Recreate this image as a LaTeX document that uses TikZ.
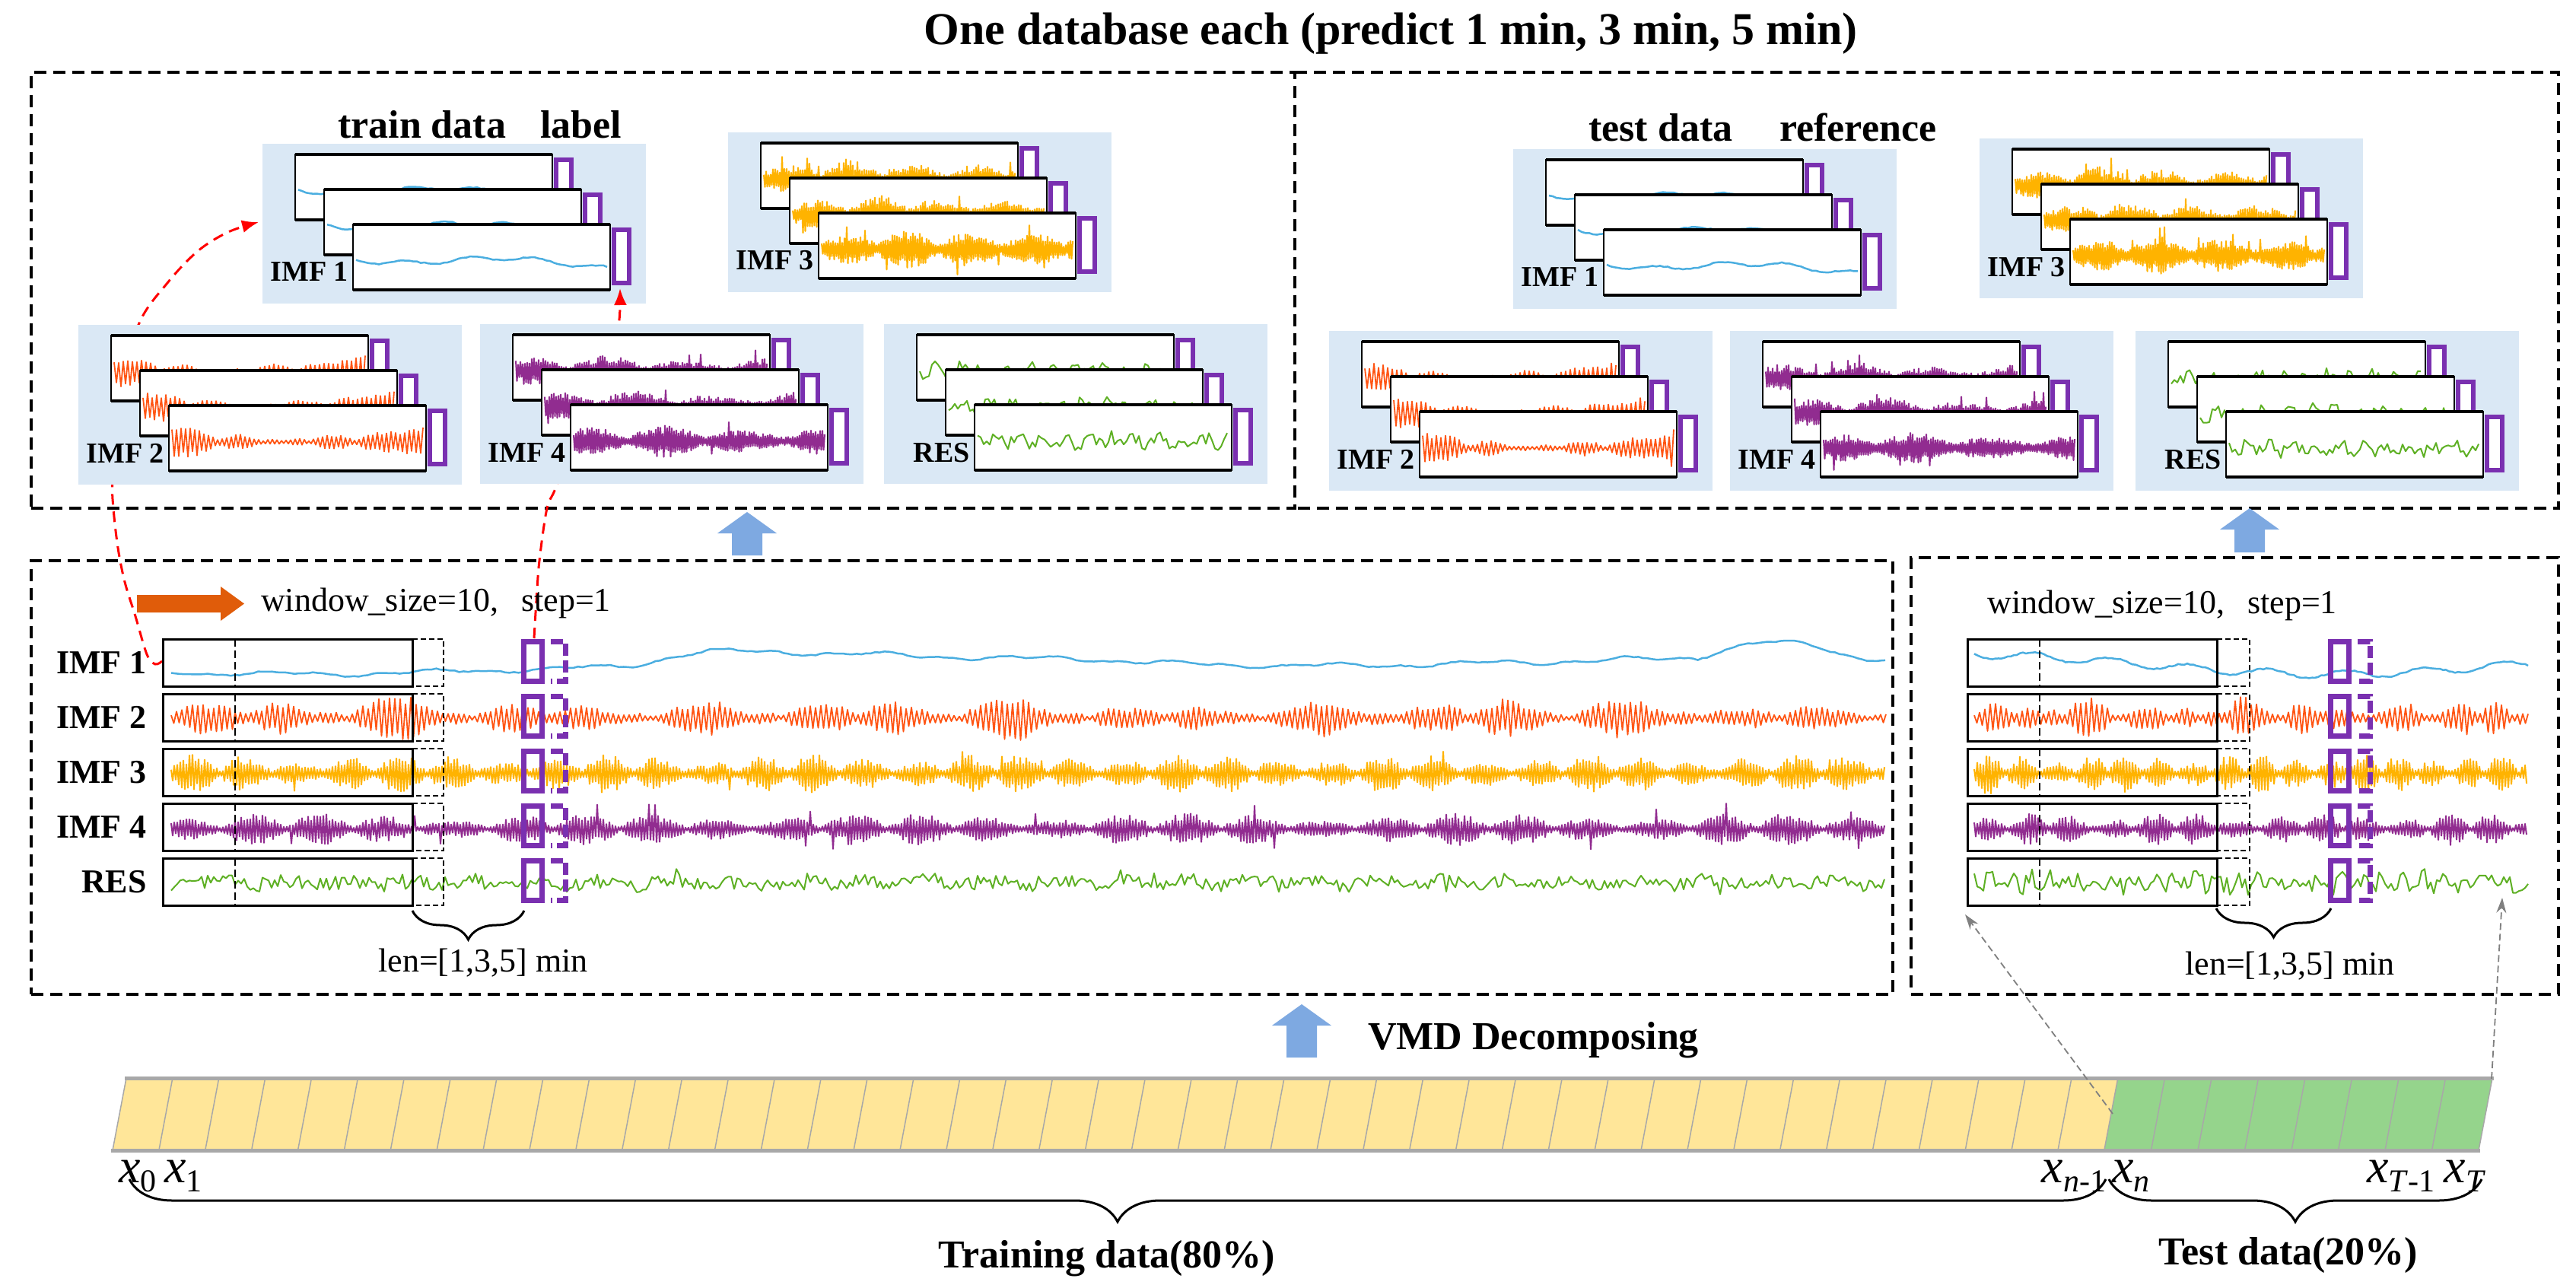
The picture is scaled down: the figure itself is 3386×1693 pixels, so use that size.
\documentclass[tikz,border=0pt]{standalone}
\usepackage{fontspec}
\setmainfont{Liberation Serif}
\usetikzlibrary{arrows.meta,decorations.pathreplacing}

\definecolor{panelblue}{HTML}{DAE8F5}
\definecolor{cimfa}{HTML}{4BAEE0}
\definecolor{cimfb}{HTML}{FF5514}
\definecolor{cimfc}{HTML}{FFB300}
\definecolor{cimfd}{HTML}{912C90}
\definecolor{cres}{HTML}{5EB024}
\definecolor{lblpurple}{HTML}{7A30B0}
\definecolor{arrowblue}{HTML}{7EA9E1}
\definecolor{arroworange}{HTML}{E05C0A}
\definecolor{baryellow}{HTML}{FFE699}
\definecolor{bargreen}{HTML}{95D48C}
\definecolor{bargray}{HTML}{A8A8A8}

\tikzset{
  dbox/.style={draw=black, line width=4pt, dash pattern=on 16pt off 9pt, inner sep=0pt, outer sep=0pt},
  panelbox/.style={fill=panelblue, minimum width=504pt, minimum height=210pt, inner sep=0pt, outer sep=0pt},
  frm/.style={draw=black, line width=2pt, fill=white, minimum width=338pt, minimum height=86pt, inner sep=0pt, outer sep=0pt},
  frmedge/.style={draw=black, line width=4pt},
  lblbar/.style={draw=lblpurple, line width=6pt, fill=white, minimum width=20pt, minimum height=70pt, inner sep=0pt, outer sep=0pt},
  plabel/.style={font=\fontsize{38}{44}\selectfont\bfseries, inner sep=0pt},
  rowlabel/.style={font=\fontsize{44}{50}\selectfont\bfseries, inner sep=0pt},
  rowbox/.style={draw=black, line width=3pt, minimum width=328pt, minimum height=62pt, inner sep=0pt, outer sep=0pt},
  extdash/.style={draw=black, line width=2.5pt, dash pattern=on 7pt off 4pt},
  vdash/.style={draw=black, line width=2pt, dash pattern=on 10pt off 5pt},
  purp/.style={draw=lblpurple, line width=7pt},
  purpdash/.style={draw=lblpurple, line width=7pt, dash pattern=on 16pt off 6pt},
  bigtext/.style={font=\fontsize{60}{70}\selectfont\bfseries, inner sep=0pt},
  lbltext/.style={font=\fontsize{52}{60}\selectfont\bfseries, inner sep=0pt},
  regtext/.style={font=\fontsize{44}{50}\selectfont, inner sep=0pt},
  reddash/.style={draw=red, line width=3pt, dash pattern=on 14pt off 9pt},
  graydash/.style={draw=gray, line width=1.8pt, dash pattern=on 9pt off 5pt},
  bracestyle/.style={draw=black, line width=3pt, decorate},
  cellline/.style={draw=bargray, line width=1.5pt},
  baredge/.style={draw=bargray, line width=5pt},
  xlabel/.style={font=\fontsize{64}{70}\selectfont, inner sep=0pt},
  imfaline/.style={draw=cimfa, line width=2.5pt, line join=round},
  imfbline/.style={draw=cimfb, line width=1.8pt, line join=round},
  imfcline/.style={draw=cimfc, line width=2pt, line join=round},
  imfdline/.style={draw=cimfd, line width=2pt, line join=round},
  resline/.style={draw=cres, line width=2pt, line join=round},
}

% alternating (oscillating) signal
\newcommand\altsig[6]{\draw[#1] plot[samples at={0,...,#4}] ({#2+\x*#5},{#3+(2*mod(\x,2)-1)*(#6)});}
% free signal
\newcommand\freesig[6]{\draw[#1] plot[samples at={0,...,#4}] ({#2+\x*#5},{#3+(#6)});}

% signals inside the small frames (#1 = x start, #2 = centre line)
\newcommand\psigA[2]{\freesig{imfaline}{#1}{#2}{66}{5}{-4+5*sin(\x*6+30)+3*sin(\x*21)+9*(\x/66)+0.8*rand}}
\newcommand\psigB[2]{\altsig{imfbline}{#1}{#2}{110}{3}{(2+18*max(0,1-\x/22)+20*max(0,(\x-82)/28)+9*abs(sin(\x*9)*sin(\x*3.3+20)))*(0.6+0.4*rnd)}}
\newcommand\psigC[2]{\altsig{imfcline}{#1}{#2}{220}{1.5}{(7+18*abs(sin(\x*3.3+20))*(0.5+0.5*abs(sin(\x*1.1))))*(0.45+0.55*rnd)+14*(rnd>0.97)}}
\newcommand\psigD[2]{\altsig{imfdline}{#1}{#2}{220}{1.5}{(5+16*abs(sin(\x*2.6+60))*(0.4+0.6*abs(sin(\x*0.9+30))))*(0.45+0.55*rnd)+12*(rnd>0.975)}}
\newcommand\psigE[2]{\freesig{resline}{#1}{#2}{82}{4}{9*rand+5*sin(\x*47)}}

% a light-blue panel with three stacked windows
\newcommand\dpanel[5]{%
  \node[panelbox, anchor=north west] (#3) at (#1,#2) {};
  \foreach \k in {0,1,2}{
    \pgfmathsetmacro\fx{#1+43+38*\k}
    \pgfmathsetmacro\fy{#2+14+46*\k}
    \pgfmathtruncatemacro\sd{#1+13*\k+1}
    \node[frm, anchor=north west] (#3-\k) at (\fx,\fy) {};
    \begin{scope}
      \clip (\fx+2,\fy+2) rectangle ++(334,82);
      \pgfmathsetseed{\sd}
      #5{\fx+4}{\fy+48}
    \end{scope}
    \draw[frmedge] (\fx,\fy) -- ++(338,0) (\fx,\fy+86) -- ++(338,0);
    \node[lblbar, anchor=north west] (#3-b\k) at (\fx+343,\fy+7) {};
  }
  \node[plabel, anchor=base east] (#3-lab) at (#1+113,#2+181) {#4};
}

\newcommand\bluearrow[3]{\fill[arrowblue] (#1-20,#3) -- (#1-20,#2+28) -- (#1-39,#2+28) -- (#1,#2) -- (#1+39,#2+28) -- (#1+20,#2+28) -- (#1+20,#3) -- cycle;}

\newcommand\xsub[1]{\textit{x}\raisebox{-0.2em}{\fontsize{42}{46}\selectfont #1}}

\begin{document}
\begin{tikzpicture}[x=1pt,y=-1pt]
\useasboundingbox (0,0) rectangle (3386,1693);
\fill[white] (0,0) rectangle (3386,1693);

% ---------------- title
\node[bigtext, anchor=base] (title) at (1828,59) {One database each (predict 1 min, 3 min, 5 min)};

% ---------------- top dashed boxes (shared dashed divider)
\node[dbox, anchor=north west, minimum width=1661pt, minimum height=573pt] (topL) at (41,95) {};
\node[inner sep=0pt, outer sep=0pt, anchor=north west, minimum width=1661pt, minimum height=573pt] (topR) at (1702,95) {};
\draw[dbox] (topR.north west) -- (topR.north east) -- (topR.south east) -- (topR.south west);

% ---------------- top-left panels
\dpanel{345}{189}{pLa}{IMF 1}{\psigA}
\dpanel{957}{174}{pLc}{IMF 3}{\psigC}

% red dashed arrows (partly hidden by lower panels)
\draw[reddash, -{Latex[length=22pt,width=17pt]}] plot[smooth, tension=0.55] coordinates {(213,869) (204,873) (193,860) (178,810) (164,765) (155,720) (149,668) (148,630) (155,530) (182,427) (220,372) (260,330) (300,305) (340,292)};
\draw[reddash, -{Latex[length=22pt,width=17pt]}] plot[smooth, tension=0.55] coordinates {(702,839) (705,790) (709,737) (719,668) (731,640) (770,540) (805,460) (814,420) (815,379)};

\dpanel{103}{427}{pLb}{IMF 2}{\psigB}
\dpanel{631}{426}{pLd}{IMF 4}{\psigD}
\dpanel{1162}{426}{pLe}{RES}{\psigE}

% ---------------- top-right panels
\dpanel{1989}{196}{pRa}{IMF 1}{\psigA}
\dpanel{2602}{182}{pRc}{IMF 3}{\psigC}
\dpanel{1747}{435}{pRb}{IMF 2}{\psigB}
\dpanel{2274}{435}{pRd}{IMF 4}{\psigD}
\dpanel{2807}{435}{pRe}{RES}{\psigE}

\node[lbltext, anchor=base west] (trd) at (444,182) {train data};
\node[lbltext, anchor=base west] (lbl) at (710,182) {label};
\node[lbltext, anchor=base west] (tsd) at (2088,186) {test data};
\node[lbltext, anchor=base west] (ref) at (2339,186) {reference};

% ---------------- blue arrows between rows
\bluearrow{982}{673}{730}
\bluearrow{2957}{668}{726}

% ---------------- middle dashed boxes
\node[dbox, anchor=north west, minimum width=2447pt, minimum height=570pt] (midL) at (41,737) {};
\node[dbox, anchor=north west, minimum width=851pt, minimum height=574pt] (midR) at (2512,733) {};

\fill[arroworange] (180,782) -- (290,782) -- (290,771) -- (321,793.5) -- (290,816) -- (290,805) -- (180,805) -- cycle;
\node[regtext, anchor=base west] (wsL) at (343,803) {window\_size=10,\hspace{30pt}step=1};
\node[regtext, anchor=base west] (wsR) at (2612,806) {window\_size=10,\hspace{30pt}step=1};

% signals, left
\pgfmathsetseed{11}
\freesig{imfaline}{225}{881}{375}{6.008}{-20*(0.5-0.5*cos(180*min(1,max(0,(\x-95)/25)))) + 5*sin(\x*2.1+30) + 2.5*sin(\x*11) + 1.5*sin(\x*29+40) + 17*max(0,cos(min(90,abs(\x-270)/70*90))) - 20*max(0,cos(min(90,abs(\x-352)/18*90))) + 0.8*rand}
\pgfmathsetseed{12}
\altsig{imfbline}{225}{944}{644}{3.5}{(2.5+26*abs(sin(\x*3.1+10)*sin(\x*4.7+50))*(0.45+0.55*abs(sin(\x*0.83+35)))+4*abs(sin(\x*11)))*(0.55+0.45*rnd)}
\pgfmathsetseed{13}
\altsig{imfcline}{225}{1017}{1126}{2}{(4+22*abs(sin(\x*5.3+10))*(0.4+0.6*abs(sin(\x*1.37+60))))*(0.45+0.55*rnd)+12*(rnd>0.985)}
\pgfmathsetseed{14}
\altsig{imfdline}{225}{1090}{1126}{2}{(3+19*abs(sin(\x*4.1+50))*(0.35+0.65*abs(sin(\x*0.93+10))))*(0.45+0.55*rnd)+14*(rnd>0.988)}
\pgfmathsetseed{15}
\freesig{resline}{225}{1160}{563}{4}{9*rand+4*sin(\x*17)+8*rand*(rnd>0.85)}

% signals, right
\pgfmathsetseed{21}
\freesig{imfaline}{2595}{873}{182}{4}{13*sin(\x*1.45-80)+5*sin(\x*14)+rand}
\pgfmathsetseed{22}
\altsig{imfbline}{2595}{944}{208}{3.5}{(2.5+26*abs(sin(\x*6.1+20)*sin(\x*9.3+40))*(0.4+0.6*abs(sin(\x*2.3+10)))+4*abs(sin(\x*17)))*(0.6+0.4*rnd)}
\pgfmathsetseed{23}
\altsig{imfcline}{2595}{1017}{363}{2}{(3+24*abs(sin(\x*8+15))*(0.4+0.6*abs(sin(\x*2.1+70))))*(0.45+0.55*rnd)}
\pgfmathsetseed{24}
\altsig{imfdline}{2595}{1090}{363}{2}{(3+19*abs(sin(\x*6.5+40))*(0.3+0.7*abs(sin(\x*1.9+20))))*(0.45+0.55*rnd)}
\pgfmathsetseed{25}
\freesig{resline}{2595}{1160}{182}{4}{12*rand+6*sin(\x*53)}

% row boxes, windows, labels
\foreach \rt/\lab [count=\ri] in {840/IMF 1, 912/IMF 2, 984/IMF 3, 1056/IMF 4, 1128/RES}{
  \pgfmathsetmacro\rb{\rt+62}
  \pgfmathsetmacro\rc{\rt+31}
  \node[rowlabel, anchor=east] (labL\ri) at (193,\rc) {\lab};
  % left box
  \node[rowbox, anchor=north west] (rowL\ri) at (214,\rt) {};
  \draw[extdash] (542,\rt) -- (583,\rt) -- (583,\rb) -- (542,\rb);
  \draw[vdash] (309,\rt) -- (309,\rb);
  \draw[purp] (688,\rt+3) rectangle (712,\rb-7);
  \draw[purpdash] (724,\rt+3) -- (743,\rt+3) -- (743,\rb-7) -- (724,\rb-7);
  % right box
  \node[rowbox, anchor=north west] (rowR\ri) at (2586,\rt) {};
  \draw[extdash] (2914,\rt) -- (2957,\rt) -- (2957,\rb) -- (2914,\rb);
  \draw[vdash] (2681,\rt) -- (2681,\rb);
  \draw[purp] (3063,\rt+3) rectangle (3087,\rb-7);
  \draw[purpdash] (3099,\rt+3) -- (3115,\rt+3) -- (3115,\rb-7) -- (3099,\rb-7);
}

% braces and len labels
\coordinate (bLa) at (542,1197); \coordinate (bLb) at (689,1197);
\draw[bracestyle, decoration={brace, mirror, amplitude=38pt}] (bLa) -- (bLb);
\node[regtext, anchor=base] (lenL) at (635,1277) {len=[1,3,5] min};
\coordinate (bRa) at (2913,1194); \coordinate (bRb) at (3064,1194);
\draw[bracestyle, decoration={brace, mirror, amplitude=38pt}] (bRa) -- (bRb);
\node[regtext, anchor=base] (lenR) at (3010,1281) {len=[1,3,5] min};

% ---------------- VMD arrow and text
\bluearrow{1711}{1320}{1390}
\node[lbltext, anchor=base west] (vmd) at (1798,1379) {VMD Decomposing};

% ---------------- data bar
\fill[baryellow] (148,1512) -- (166,1417) -- (2784,1417) -- (2766,1512) -- cycle;
\fill[bargreen] (2766,1512) -- (2784,1417) -- (3276,1417) -- (3258,1512) -- cycle;
\foreach \i in {0,...,43}{
  \pgfmathsetmacro\bx{148+\i*60.88}
  \draw[cellline] (\bx,1512) -- (\bx+18,1417);
}
\foreach \i in {1,...,8}{
  \pgfmathsetmacro\bx{2766+\i*61.5}
  \draw[cellline] (\bx,1512) -- (\bx+18,1417);
}
\draw[baredge] (164,1417) -- (3278,1417);
\draw[baredge] (146,1512) -- (3260,1512);

\node[xlabel, anchor=base] (x0) at (181,1554) {\xsub{0}};
\node[xlabel, anchor=base] (x1) at (241,1554) {\xsub{1}};
\node[xlabel, anchor=base] (xn1) at (2726,1554) {\xsub{\textit{n}-1}};
\node[xlabel, anchor=base] (xn) at (2801,1554) {\xsub{\textit{n}}};
\node[xlabel, anchor=base] (xT1) at (3156,1554) {\xsub{\textit{T}-1}};
\node[xlabel, anchor=base] (xT) at (3240,1554) {\xsub{\textit{T}}};

\coordinate (trA) at (170,1550); \coordinate (trB) at (2768,1550);
\draw[bracestyle, decoration={brace, mirror, amplitude=56pt}] (trA) -- (trB);
\coordinate (teA) at (2772,1550); \coordinate (teB) at (3262,1550);
\draw[bracestyle, decoration={brace, mirror, amplitude=56pt}] (teA) -- (teB);

\node[lbltext, anchor=base] (trn) at (1455,1666) {Training data(80\%)};
\node[lbltext, anchor=base] (tst) at (3008,1662) {Test data(20\%)};

% gray dashed arrows from the bar to the test windows
\coordinate (gA1) at (2777,1464); \coordinate (gA2) at (2583,1202);
\coordinate (gB1) at (3275,1418); \coordinate (gB2) at (3289,1180);
\draw[graydash, -{Stealth[length=20pt,width=13pt]}] (gA1) -- (gA2);
\draw[graydash, -{Stealth[length=20pt,width=13pt]}] (gB1) -- (gB2);
\end{tikzpicture}
\end{document}
